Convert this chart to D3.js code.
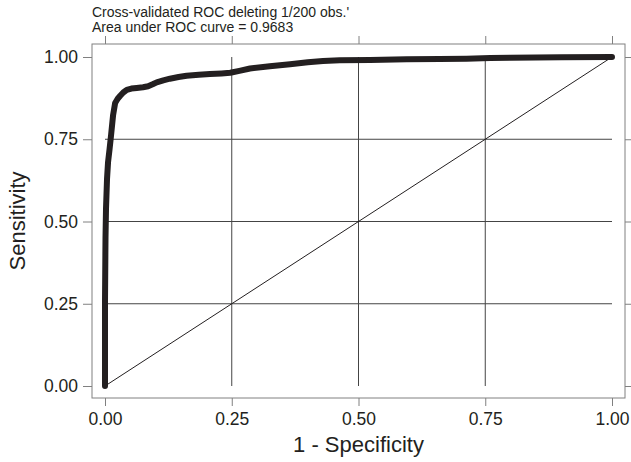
<!DOCTYPE html>
<html><head><meta charset="utf-8">
<script src="https://cdn.jsdelivr.net/npm/d3@7"></script>
<style>body{margin:0;background:#fff}svg{display:block}text{font-family:"Liberation Sans",Arial,sans-serif;fill:#231f20}</style>
</head><body>
<script>
const titleLines = ["Cross-validated ROC deleting 1/200 obs.'", "Area under ROC curve = 0.9683"];
const xLabel = "1 - Specificity";
const yLabel = "Sensitivity";
const tickValues = [0, 0.25, 0.5, 0.75, 1];
const fpr = [0, 0, 0.001, 0.002, 0.004, 0.006, 0.009, 0.012, 0.016, 0.020, 0.025, 0.030, 0.036, 0.043, 0.052, 0.0625, 0.075, 0.085, 0.094, 0.102, 0.115, 0.128, 0.145, 0.161, 0.185, 0.207, 0.230, 0.247, 0.265, 0.286, 0.325, 0.365, 0.400, 0.430, 0.463, 0.523, 0.595, 0.660, 0.713, 0.760, 0.799, 0.900, 1.0];
const tpr = [0, 0.26, 0.45, 0.54, 0.63, 0.68, 0.72, 0.763, 0.824, 0.860, 0.873, 0.882, 0.892, 0.900, 0.904, 0.906, 0.908, 0.911, 0.917, 0.923, 0.929, 0.934, 0.939, 0.943, 0.946, 0.948, 0.950, 0.952, 0.958, 0.965, 0.972, 0.978, 0.984, 0.988, 0.990, 0.991, 0.993, 0.994, 0.995, 0.997, 0.998, 0.999, 1.0];

const W = 631, H = 462;
const box = {l: 92, r: 625, t: 44, b: 398};
const svg = d3.select("body").append("svg").attr("width", W).attr("height", H);
const x = d3.scaleLinear().domain([0, 1]).range([105, 612]);
const y = d3.scaleLinear().domain([0, 1]).range([386, 57]);
const fmt = d3.format(".2f");

// grid
const g = svg.append("g");
g.selectAll(".vg").data(tickValues.slice(1, 4)).join("line")
  .attr("x1", d => x(d)).attr("x2", d => x(d)).attr("y1", y(0)).attr("y2", y(1))
  .attr("stroke", "#444").attr("stroke-width", 1);
g.selectAll(".hg").data(tickValues.slice(1, 4)).join("line")
  .attr("y1", d => y(d)).attr("y2", d => y(d)).attr("x1", x(0)).attr("x2", x(1))
  .attr("stroke", "#444").attr("stroke-width", 1);

// diagonal
svg.append("line").attr("x1", x(0)).attr("y1", y(0)).attr("x2", x(1)).attr("y2", y(1))
  .attr("stroke", "#231f20").attr("stroke-width", 1);

// curve
const pts = fpr.map((v, i) => [v, tpr[i]]);
svg.append("path").datum(pts)
  .attr("d", d3.line().x(d => x(d[0])).y(d => y(d[1])))
  .attr("fill", "none").attr("stroke", "#231f20").attr("stroke-width", 6)
  .attr("stroke-linecap", "round").attr("stroke-linejoin", "round");

// box
svg.append("rect").attr("x", box.l).attr("y", box.t).attr("width", box.r - box.l).attr("height", box.b - box.t)
  .attr("fill", "none").attr("stroke", "#808080").attr("stroke-width", 1);

function style(sel, labels) {
  sel.select(".domain").remove();
  sel.selectAll(".tick line").attr("stroke", "#808080");
  sel.selectAll(".tick text").style("font-size", "17.5px").attr("fill", "#231f20");
  if (!labels) sel.selectAll(".tick text").remove();
}
svg.append("g").attr("transform", `translate(0,${box.b})`)
  .call(d3.axisBottom(x).tickValues(tickValues).tickFormat(fmt).tickSize(8).tickPadding(7))
  .call(s => style(s, true));
svg.append("g").attr("transform", `translate(0,${box.t})`)
  .call(d3.axisTop(x).tickValues(tickValues).tickSize(8))
  .call(s => style(s, false));
svg.append("g").attr("transform", `translate(${box.l},0)`)
  .call(d3.axisLeft(y).tickValues(tickValues).tickFormat(fmt).tickSize(9).tickPadding(5))
  .call(s => style(s, true));
svg.append("g").attr("transform", `translate(${box.r},0)`)
  .call(d3.axisRight(y).tickValues(tickValues).tickSize(8))
  .call(s => style(s, false));

// titles
svg.selectAll(".ttl").data(titleLines).join("text")
  .attr("x", box.l).attr("y", (d, i) => 17 + i * 15)
  .style("font-size", "14px").text(d => d);
svg.append("text").attr("x", (box.l + box.r) / 2).attr("y", 452)
  .attr("text-anchor", "middle").style("font-size", "22px").text(xLabel);
svg.append("text").attr("transform", `translate(25,${(box.t + box.b) / 2}) rotate(-90)`)
  .attr("text-anchor", "middle").style("font-size", "22px").text(yLabel);
</script>
</body></html>
